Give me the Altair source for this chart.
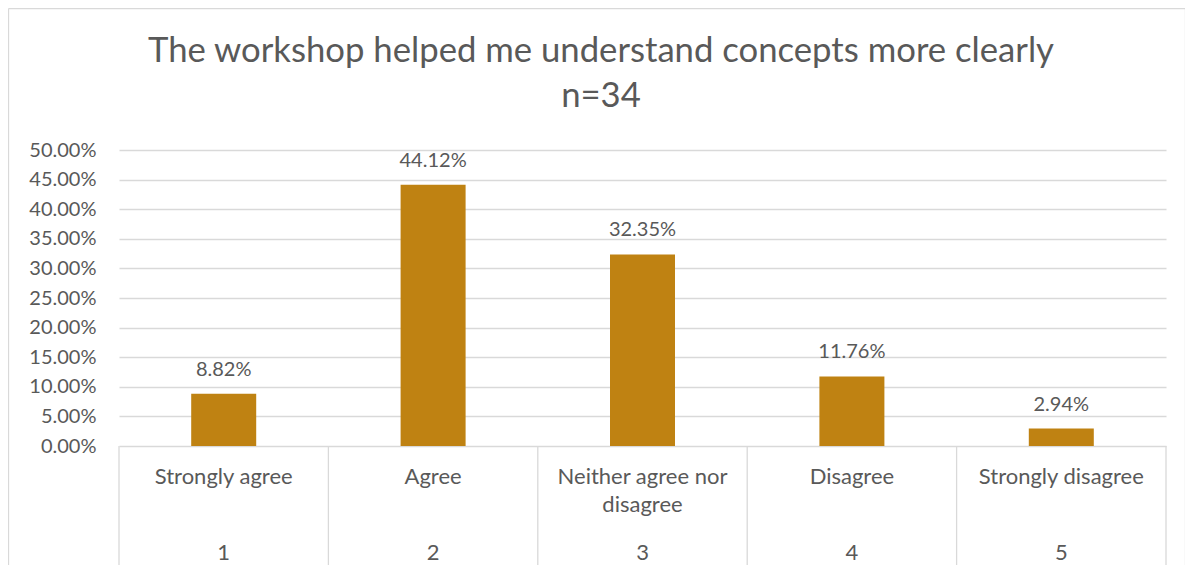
import altair as alt
import pandas as pd

title_lines = ["The workshop helped me understand concepts more clearly", "n=34"]
categories = ["Strongly agree", "Agree", "Neither agree nor|disagree", "Disagree", "Strongly disagree"]
codes = [1, 2, 3, 4, 5]
values = [0.0882, 0.4412, 0.3235, 0.1176, 0.0294]
value_labels = ["8.82%", "44.12%", "32.35%", "11.76%", "2.94%"]
y_ticks = [0.0, 0.05, 0.10, 0.15, 0.20, 0.25, 0.30, 0.35, 0.40, 0.45, 0.50]

W, H = 1047, 296
FONT = "Lato"
GREY_TXT = "#595959"
GRID = "#D9D9D9"
BAR = "#BF8212"

df = pd.DataFrame({"cat": categories, "code": codes, "value": values, "vlabel": value_labels})
bounds = pd.DataFrame({"b": [c - 0.5 for c in codes] + [codes[-1] + 0.5]})
one = pd.DataFrame({"t": ["|".join(title_lines)]})

xs = alt.Scale(domain=[0.5, 5.5], nice=False, zero=False, padding=0)
ys = alt.Scale(domain=[0, 0.5], nice=False)
yaxis = alt.Axis(values=y_ticks, format=".2%", title=None, domain=False, ticks=False,
                 grid=True, gridColor=GRID, gridWidth=1.3, labelPadding=23,
                 labelFont=FONT, labelFontSize=20, labelColor=GREY_TXT)

base = alt.Chart(df)

bars = base.mark_bar(color=BAR, size=65).encode(
    x=alt.X("code:Q", scale=xs, axis=None),
    y=alt.Y("value:Q", scale=ys, axis=yaxis),
)

vtext = base.mark_text(font=FONT, fontSize=20, color=GREY_TXT, baseline="alphabetic", dy=-18).encode(
    x=alt.X("code:Q", scale=xs, axis=None), y=alt.Y("value:Q", scale=ys, axis=yaxis), text="vlabel:N"
)

cat_text = base.mark_text(font=FONT, fontSize=22, color=GREY_TXT, baseline="alphabetic",
                          lineBreak="|", lineHeight=28).encode(
    x=alt.X("code:Q", scale=xs, axis=None), y=alt.value(H + 38), text="cat:N"
)

num_text = base.mark_text(font=FONT, fontSize=22, color=GREY_TXT, baseline="alphabetic").encode(
    x=alt.X("code:Q", scale=xs, axis=None), y=alt.value(H + 114), text="code:N"
)

seps = alt.Chart(bounds).mark_rule(color=GRID, strokeWidth=1.3).encode(
    x=alt.X("b:Q", scale=xs, axis=None), y=alt.value(H), y2=alt.value(H + 130)
)

title = alt.Chart(one).mark_text(font=FONT, fontSize=34.7, color=GREY_TXT, baseline="alphabetic",
                                 lineBreak="|", lineHeight=45).encode(
    x=alt.value(482), y=alt.value(-88), text="t:N"
)

border_top = alt.Chart(one).mark_rule(color=GRID, strokeWidth=1.3).encode(
    x=alt.value(-110.5), x2=alt.value(1066.5), y=alt.value(-141.5)
)
border_left = alt.Chart(one).mark_rule(color=GRID, strokeWidth=1.3).encode(
    x=alt.value(-110.5), y=alt.value(-141.5), y2=alt.value(H + 200)
)
border_right = alt.Chart(one).mark_rule(color=GRID, strokeWidth=1.3).encode(
    x=alt.value(1066.5), y=alt.value(-141.5), y2=alt.value(H + 200)
)

chart = alt.layer(bars, seps, vtext, cat_text, num_text, title,
                  border_top, border_left, border_right).properties(
    width=W, height=H,
    autosize=alt.AutoSizeParams(type="none"),
    padding={"left": 111, "top": 142, "right": 19, "bottom": 119},
).configure(background="white").configure_view(strokeOpacity=0)

chart.save("out.html", embed_options={"renderer": "svg", "actions": False})
